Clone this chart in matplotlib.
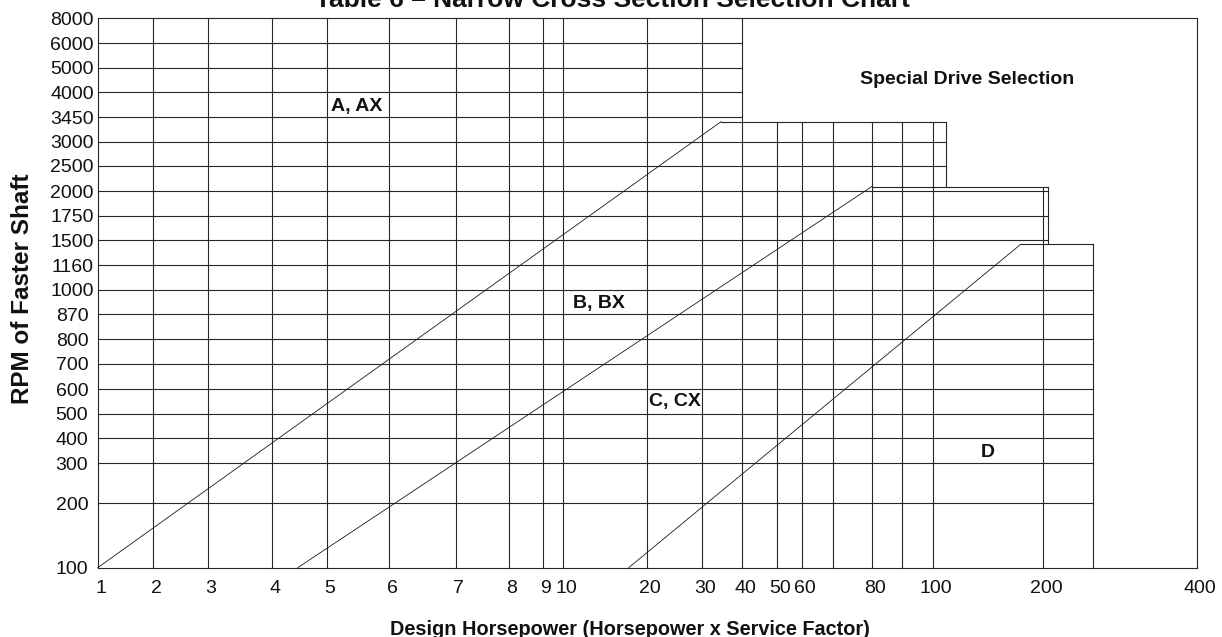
import matplotlib
matplotlib.use("Agg")
import matplotlib.pyplot as plt
import matplotlib.transforms as mtransforms
import numpy as np

plt.rcParams['font.family'] = ['Liberation Sans', 'DejaVu Sans']

W, H = 1222, 637

# axis ticks of the printed chart and where each one sits (pixels in the chart)
hp_ticks = [1, 2, 3, 4, 5, 6, 7, 8, 9, 10, 20, 30, 40, 50, 60, 70, 80, 90, 100, 200, 400]
hp_pix = [97.7, 153.3, 207.5, 272.3, 326.7, 389.3, 455.7, 508.7, 542.7, 563.3, 647.3,
          701.7, 742.3, 776.7, 802.0, 833.0, 871.7, 902.3, 933.3, 1043.3, 1196.7]
hp_labels = ['1', '2', '3', '4', '5', '6', '7', '8', '9', '10', '20', '30', '40', '50',
             '60', '', '80', '', '100', '200', '400']

rpm_ticks = [100, 200, 300, 400, 500, 600, 700, 800, 870, 1000, 1160, 1500, 1750, 2000,
             2500, 3000, 3450, 4000, 5000, 6000, 8000]
rpm_pix = [567.7, 503.3, 463.0, 438.3, 413.7, 389.0, 364.0, 339.2, 314.3, 289.7, 265.3,
           240.3, 215.7, 191.0, 166.0, 141.7, 117.0, 92.3, 67.7, 43.0, 18.3]
rpm_labels = [str(v) for v in rpm_ticks]

# horizontal grid rows: rpm, hp from, hp to
h_rows = [(8000, 1, 400), (6000, 1, 40), (5000, 1, 40), (4000, 1, 40), (3450, 1, 40),
          (3000, 1, 108), (2500, 1, 108), (2000, 1, 204), (1750, 1, 204), (1500, 1, 204),
          (1160, 1, 250), (1000, 1, 250), (870, 1, 250), (800, 1, 250), (700, 1, 250),
          (600, 1, 250), (500, 1, 250), (400, 1, 250), (300, 1, 250), (200, 1, 250),
          (100, 1, 400)]
# vertical grid columns: hp, rpm from, rpm to
v_cols = [(1, 100, 8000), (2, 100, 8000), (3, 100, 8000), (4, 100, 8000), (5, 100, 8000),
          (6, 100, 8000), (7, 100, 8000), (8, 100, 8000), (9, 100, 8000), (10, 100, 8000),
          (20, 100, 8000), (30, 100, 8000), (40, 100, 8000),
          (50, 100, 3360), (60, 100, 3360), (70, 100, 3360), (80, 100, 3360),
          (90, 100, 3360), (100, 100, 3360), (108, 2080, 3360),
          (200, 100, 2080), (204, 1440, 2080), (250, 100, 1440), (400, 100, 8000)]
# stepped upper edges of each belt section: rpm, hp from, hp to
steps = [(3360, 34.4, 108), (2080, 80, 204), (1440, 173.5, 250)]
# section boundaries (hp, rpm) start -> end
bounds = [((1, 100), (34.4, 3360)),
          ((4.44, 100), (80, 2080)),
          ((17.15, 100), (173.5, 1440))]

sections = ['A, AX', 'B, BX', 'C, CX', 'D', 'Special Drive Selection']
section_hp = [5.45, 13.4, 24.6, 141, 124]
section_rpm = [3670, 925, 546, 340, 4510]


def make_scale(ticks, pix):
    lt = np.log(ticks)
    p = np.asarray(pix, dtype=float)
    if p[0] > p[-1]:
        p = H - p
    def fwd(v):
        v = np.asarray(v, dtype=float)
        return np.interp(np.log(np.clip(v, 1e-9, None)), lt, p)
    def inv(q):
        return np.exp(np.interp(q, p, lt))
    return fwd, inv


fig = plt.figure(figsize=(W / 100, H / 100), dpi=100)
x0, x1 = hp_pix[0], hp_pix[-1]
ytop, ybot = rpm_pix[-1], rpm_pix[0]
ax = fig.add_axes([x0 / W, (H - ybot) / H, (x1 - x0) / W, (ybot - ytop) / H])

ax.set_xscale('function', functions=make_scale(hp_ticks, hp_pix))
ax.set_yscale('function', functions=make_scale(rpm_ticks, rpm_pix))
ax.set_xlim(1, 400)
ax.set_ylim(100, 8000)

grid_kw = dict(color='#262626', lw=0.8, clip_on=False, solid_capstyle='projecting')
for r, a, b in h_rows:
    ax.plot([a, b], [r, r], **grid_kw)
for h, a, b in v_cols:
    ax.plot([h, h], [a, b], **grid_kw)
for r, a, b in steps:
    ax.plot([a, b], [r, r], **grid_kw)
for (ha_, ra), (hb, rb) in bounds:
    ax.plot([ha_, hb], [ra, rb], color='#1a1a1a', lw=0.6, clip_on=False)

for s, h, r in zip(sections, section_hp, section_rpm):
    ax.text(h, r, s, ha='center', va='center', fontsize=14, fontweight='bold', color='#111111')

for sp in ax.spines.values():
    sp.set_visible(False)

ax.set_xticks(hp_ticks)
ax.set_xticklabels(hp_labels)
ax.set_yticks(rpm_ticks)
ax.set_yticklabels(rpm_labels)
ax.minorticks_off()
ax.tick_params(axis='x', length=0, pad=9, labelsize=14, labelcolor='#111111')
ax.tick_params(axis='y', length=0, pad=18.5, labelsize=14, labelcolor='#111111')
for lab in ax.get_yticklabels():
    lab.set_horizontalalignment('center')
shift = mtransforms.ScaledTranslation(3 / 100, 0, fig.dpi_scale_trans)
for lab in ax.get_xticklabels():
    lab.set_transform(lab.get_transform() + shift)

fig.text(612.5 / W, 1 - 7 / H, 'Table 6 \u2013 Narrow Cross Section Selection Chart',
         ha='center', va='baseline', fontsize=19, fontweight='bold', color='#111111')
fig.text(630 / W, 1 - 635 / H, 'Design Horsepower (Horsepower x Service Factor)',
         ha='center', va='baseline', fontsize=14.3, fontweight='bold', color='#111111')
fig.text(23 / W, 1 - 289 / H, 'RPM of Faster Shaft', rotation=90,
         ha='center', va='center', fontsize=17.5, fontweight='bold', color='#111111')

fig.savefig('out.png', dpi=100)
